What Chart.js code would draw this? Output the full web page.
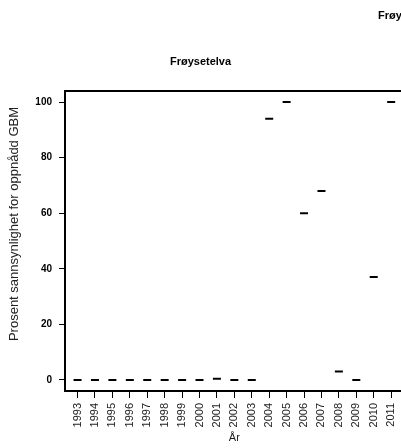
<!DOCTYPE html>
<html>
<head>
<meta charset="utf-8">
<script src="https://cdn.jsdelivr.net/npm/chart.js@4.4.1/dist/chart.umd.min.js"></script>
<style>
html,body{margin:0;padding:0;background:#fff;overflow:hidden;width:401px;height:448px;}
#wrap{position:absolute;left:0;top:0;width:420px;height:448px;}
</style>
</head>
<body>
<div id="wrap"><canvas id="c" width="420" height="448"></canvas></div>
<script>
const years = ['1993','1994','1995','1996','1997','1998','1999','2000','2001','2002','2003','2004','2005','2006','2007','2008','2009','2010','2011'];
const probability = [0,0,0,0,0,0,0,0,0.4,0,0,94,100,60,68,3,0,37,100];
const yTicks = [0,20,40,60,80,100];
const chartTitle = 'Frøysetelva';
const yTitle = 'Prosent sannsynlighet for oppnådd GBM';
const xTitle = 'År';

const points = probability.map((v,i)=>({x:i+1,y:v}));
const FONT = '"Liberation Sans", Arial, Helvetica, sans-serif';

const textPlugin = {
  id:'texts',
  afterDraw(chart){
    const ctx = chart.ctx, a = chart.chartArea;
    ctx.save();
    ctx.strokeStyle = '#000';
    ctx.lineWidth = 2;
    ctx.strokeRect(a.left, a.top, a.right - a.left, a.bottom - a.top);
    ctx.fillStyle = '#000';
    ctx.font = 'bold 11px ' + FONT;
    ctx.textAlign = 'center';
    ctx.textBaseline = 'middle';
    ctx.fillText(chartTitle, 200.5, 62);
    ctx.textAlign = 'left';
    ctx.fillText(chartTitle, 378, 16);
    ctx.font = '11px ' + FONT;
    ctx.textAlign = 'center';
    ctx.fillStyle = '#222';
    ctx.fillText(xTitle, (a.left + a.right)/2, 438);
    ctx.translate(14, 224);
    ctx.rotate(-Math.PI/2);
    ctx.font = '13px ' + FONT;
    ctx.fillText(yTitle, 0, 0);
    ctx.restore();
  }
};

new Chart(document.getElementById('c'), {
  type:'scatter',
  data:{datasets:[{
    data:points,
    pointStyle:'line',
    pointRadius:4,
    pointHoverRadius:4,
    borderColor:'#000',
    backgroundColor:'#000',
    borderWidth:2,
    pointBorderWidth:2,
    showLine:false
  }]},
  options:{
    responsive:false,
    animation:false,
    events:[],
    layout:{padding:{top:91,right:16.3,left:0,bottom:0}},
    plugins:{legend:{display:false},tooltip:{enabled:false},title:{display:false}},
    scales:{
      x:{
        type:'linear',
        min:0.28, max:19.72,
        afterBuildTicks(s){ s.ticks = years.map((y,i)=>({value:i+1})); },
        afterFit(s){ s.height = 57; },
        grid:{drawOnChartArea:false, drawTicks:true, tickLength:7, color:'#000', lineWidth:1},
        border:{display:false},
        ticks:{
          autoSkip:false, minRotation:90, maxRotation:90, padding:5,
          color:'#222', font:{family:FONT, size:11},
          callback:(v)=> years[Math.round(v)-1]
        }
      },
      y:{
        type:'linear',
        min:-4, max:104,
        afterBuildTicks(s){ s.ticks = yTicks.map(v=>({value:v})); },
        afterFit(s){ s.width = 65; },
        grid:{drawOnChartArea:false, drawTicks:true, tickLength:6, color:'#000', lineWidth:1},
        border:{display:false},
        ticks:{padding:7, color:'#000', font:{family:FONT, size:10, weight:'bold'}}
      }
    }
  },
  plugins:[textPlugin]
});
</script>
</body>
</html>
